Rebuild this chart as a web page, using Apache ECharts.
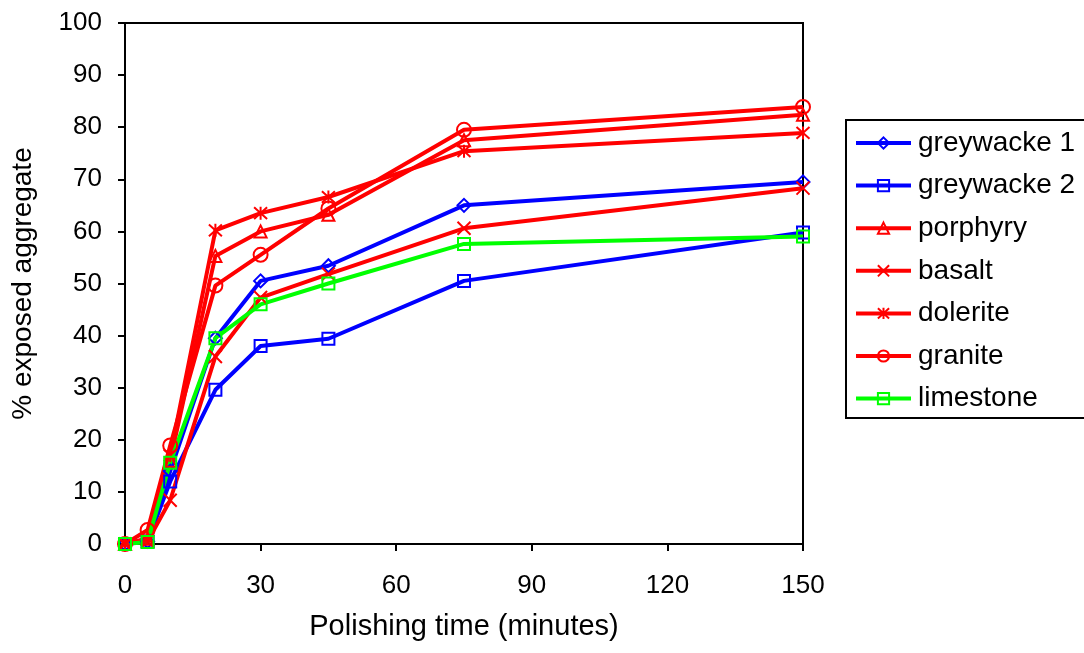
<!DOCTYPE html>
<html><head><meta charset="utf-8">
<script src="https://cdn.jsdelivr.net/npm/echarts@6/dist/echarts.min.js"></script>
<style>html,body{margin:0;padding:0;background:#fff}#c{width:1084px;height:653px}</style>
</head><body><div id="c"></div>
<script>
const times = [0, 5, 10, 20, 30, 45, 75, 150];
const greywacke1 = [0, 0.5, 14, 39.5, 50.5, 53.4, 65, 69.5];
const greywacke2 = [0, 0.5, 12, 29.6, 38, 39.4, 50.5, 59.8];
const porphyry = [0, 1, 16, 55.3, 60, 63.2, 77.5, 82.4];
const basalt = [0, 0.5, 8.4, 36, 47.3, 51.8, 60.6, 68.3];
const dolerite = [0, 1, 17, 60.2, 63.5, 66.6, 75.4, 78.9];
const granite = [0, 2.7, 18.9, 49.6, 55.5, 64.4, 79.5, 83.9];
const limestone = [0, 0.4, 15.6, 39.5, 46, 50, 57.6, 59];
const xTicks = [0, 30, 60, 90, 120, 150];
const yTicks = [0, 10, 20, 30, 40, 50, 60, 70, 80, 90, 100];

const FONT = "'Liberation Sans', Arial, sans-serif";
const BLUE = '#0000FF', RED = '#FF0000', GREEN = '#00FF00';
const X_PATH = 'path://M0,0L10,10M10,0L0,10';
const STAR_PATH = 'path://M5,0L5,10M0.5,0.5L9.5,9.5M9.5,0.5L0.5,9.5';

function mk(name, vals, color, symbol, size) {
  return {
    name, type: 'line', data: times.map((t, i) => [t, vals[i]]),
    symbol, symbolSize: size,
    lineStyle: { color, width: 4 },
    itemStyle: { color: 'rgba(0,0,0,0)', borderColor: color, borderWidth: 2 },
    emphasis: { disabled: true }, animation: false
  };
}

const chart = echarts.init(document.getElementById('c'), null, { renderer: 'canvas' });
chart.setOption({
  backgroundColor: '#fff',
  animation: false,
  textStyle: { fontFamily: FONT },
  grid: { left: 125, right: 281, top: 23, bottom: 109, show: true, borderColor: '#000', borderWidth: 2, backgroundColor: 'transparent' },
  graphic: [{
    type: 'rect', shape: { x: 846, y: 120, width: 260, height: 298 }, z: 0,
    style: { fill: '#fff', stroke: '#000', lineWidth: 2 }
  }],
  legend: {
    orient: 'vertical', left: 849, top: 124, itemWidth: 55, itemHeight: 14, itemGap: 14.6,
    lineStyle: { width: 4 },
    textStyle: { fontSize: 28, color: '#000', fontFamily: FONT, padding: [0, 0, 0, 2] },
    data: ['greywacke 1', 'greywacke 2', 'porphyry', 'basalt', 'dolerite', 'granite', 'limestone'],
    z: 5
  },
  xAxis: {
    type: 'value', min: xTicks[0], max: xTicks[xTicks.length - 1], interval: 30,
    name: 'Polishing time (minutes)', nameLocation: 'middle', nameGap: 68,
    nameTextStyle: { fontSize: 29, color: '#000', fontFamily: FONT },
    axisLine: { show: true, onZero: false, lineStyle: { color: '#000', width: 2 } },
    axisTick: { show: true, length: 7, lineStyle: { color: '#000', width: 2 } },
    axisLabel: { fontSize: 26, color: '#000', margin: 29, fontFamily: FONT },
    splitLine: { show: false }
  },
  yAxis: {
    type: 'value', min: yTicks[0], max: yTicks[yTicks.length - 1], interval: 10,
    name: '% exposed aggregate', nameLocation: 'middle', nameGap: 88, nameRotate: 90,
    nameTextStyle: { fontSize: 28, color: '#000', fontFamily: FONT },
    axisLine: { show: true, lineStyle: { color: '#000', width: 2 } },
    axisTick: { show: true, length: 7, lineStyle: { color: '#000', width: 2 } },
    axisLabel: { fontSize: 26, color: '#000', margin: 23, fontFamily: FONT },
    splitLine: { show: false }
  },
  series: [
    mk('greywacke 1', greywacke1, BLUE, 'diamond', 13),
    mk('greywacke 2', greywacke2, BLUE, 'rect', 12),
    mk('porphyry', porphyry, RED, 'triangle', 12),
    mk('basalt', basalt, RED, X_PATH, 13),
    mk('dolerite', dolerite, RED, STAR_PATH, 13),
    mk('granite', granite, RED, 'circle', 14),
    mk('limestone', limestone, GREEN, 'rect', 12)
  ]
});
</script></body></html>
